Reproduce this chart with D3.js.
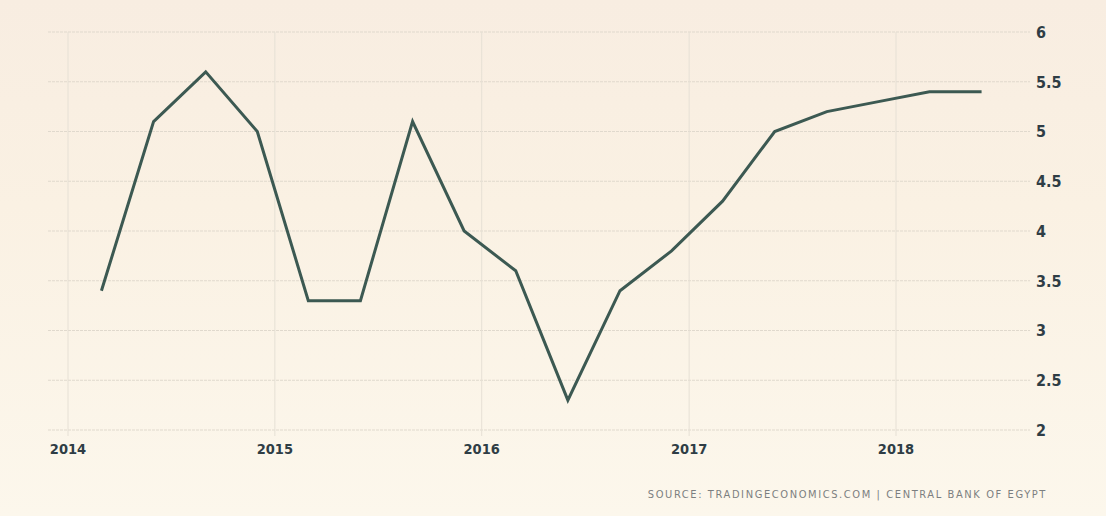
<!DOCTYPE html>
<meta charset="utf-8">

<!-- Load d3.js -->
<script src="https://d3js.org/d3.v7.min.js"></script>

<style>
  body { margin: 0; background: #fbf3e6; }
  svg { display: block; }
  .tick-label { font-family: "DejaVu Sans Condensed", "DejaVu Sans", sans-serif; font-weight: bold; fill: #2f3d45; }
  .x-label { font-size: 14.5px; }
  .y-label { font-size: 16px; }
  .source { font-family: "DejaVu Sans Condensed", "DejaVu Sans", sans-serif; font-size: 11px; fill: #7c7f80; letter-spacing: 1.6px; }
</style>

<svg id="my_dataviz" width="1106" height="516"></svg>

<script>

// Data: quarterly values, one per quarter from Q1 2014 to Q2 2018
var years = [2014, 2015, 2016, 2017, 2018];
var quarterMonths = [2, 5, 8, 11];  // Mar, Jun, Sep, Dec
var values = [3.4, 5.1, 5.6, 5.0,
              3.3, 3.3, 5.1, 4.0,
              3.6, 2.3, 3.4, 3.8,
              4.3, 5.0, 5.2, 5.3,
              5.4, 5.4];
var yTicks = [2, 2.5, 3, 3.5, 4, 4.5, 5, 5.5, 6];
var sourceText = "SOURCE: TRADINGECONOMICS.COM | CENTRAL BANK OF EGYPT";

var data = values.map(function(v, i) {
  var yr = years[0] + Math.floor(i / 4);
  return { date: new Date(yr, quarterMonths[i % 4], 1), value: v };
});

// The svg
var svg = d3.select("svg"),
  width = +svg.attr("width"),
  height = +svg.attr("height");

// paper background
var defs = svg.append("defs");
var grad = defs.append("linearGradient").attr("id", "paper")
  .attr("x1", 0).attr("y1", 0).attr("x2", 0).attr("y2", 1);
grad.append("stop").attr("offset", "0%").attr("stop-color", "#f8ede1");
grad.append("stop").attr("offset", "40%").attr("stop-color", "#faf1e3");
grad.append("stop").attr("offset", "100%").attr("stop-color", "#fcf7ec");
svg.append("rect").attr("width", width).attr("height", height).attr("fill", "url(#paper)");

// Plot area
var plotLeft = 48, plotRight = 1030, plotTop = 32, plotBottom = 430;
var x = d3.scaleTime()
  .domain([new Date(2014, 0, 1), new Date(2018, 0, 1)])
  .range([68, 896]);
var y = d3.scaleLinear()
  .domain([2, 6])
  .range([plotBottom, plotTop]);

// horizontal grid
svg.append("g")
  .selectAll("line")
  .data(yTicks)
  .enter()
  .append("line")
    .attr("x1", plotLeft)
    .attr("x2", plotRight)
    .attr("y1", function(d) { return y(d); })
    .attr("y2", function(d) { return y(d); })
    .style("stroke", "#e0d9cd")
    .style("stroke-width", 1)
    .style("stroke-dasharray", "3,1");

// vertical grid
svg.append("g")
  .selectAll("line")
  .data(years)
  .enter()
  .append("line")
    .attr("x1", function(d) { return x(new Date(d, 0, 1)); })
    .attr("x2", function(d) { return x(new Date(d, 0, 1)); })
    .attr("y1", plotTop)
    .attr("y2", plotBottom + 6)
    .style("stroke", "#e6e0d5")
    .style("stroke-width", 1);

// y labels on the right
svg.append("g")
  .selectAll("text")
  .data(yTicks)
  .enter()
  .append("text")
    .attr("class", "tick-label y-label")
    .attr("x", 1036)
    .attr("y", function(d) { return y(d); })
    .attr("dy", "0.36em")
    .text(function(d) { return d; });

// x labels
svg.append("g")
  .selectAll("text")
  .data(years)
  .enter()
  .append("text")
    .attr("class", "tick-label x-label")
    .attr("x", function(d) { return x(new Date(d, 0, 1)); })
    .attr("y", 454)
    .attr("text-anchor", "middle")
    .text(function(d) { return d; });

// the line
svg.append("path")
  .datum(data)
  .attr("fill", "none")
  .attr("stroke", "#3c5952")
  .attr("stroke-width", 3)
  .attr("stroke-linejoin", "miter")
  .attr("d", d3.line()
    .x(function(d) { return x(d.date); })
    .y(function(d) { return y(d.value); })
  );

// source
svg.append("text")
  .attr("class", "source")
  .attr("x", 1047)
  .attr("y", 498)
  .attr("text-anchor", "end")
  .text(sourceText);

</script>
